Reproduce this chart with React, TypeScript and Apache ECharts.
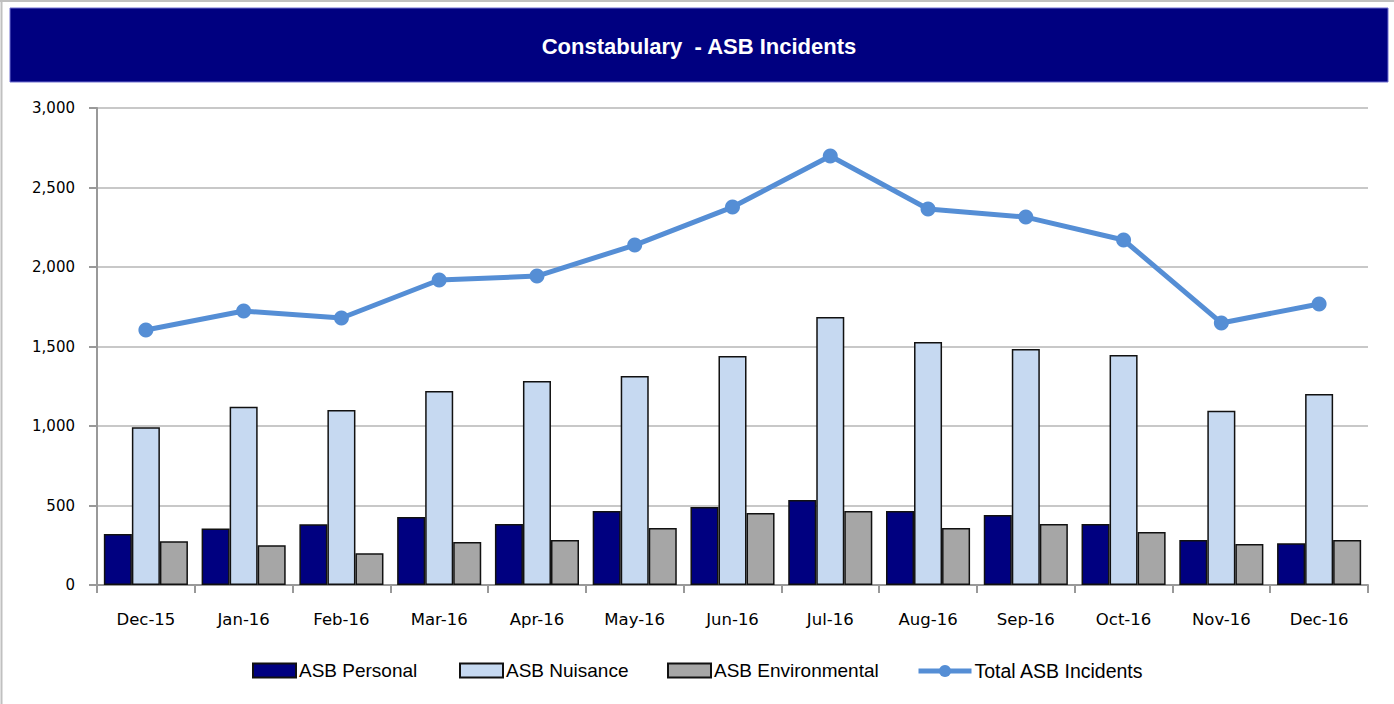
import React, { useEffect, useRef } from "react";
import * as echarts from "echarts";

const categories = ["Dec-15", "Jan-16", "Feb-16", "Mar-16", "Apr-16", "May-16", "Jun-16", "Jul-16", "Aug-16", "Sep-16", "Oct-16", "Nov-16", "Dec-16"];
const asbPersonal = [321, 356, 382, 428, 384, 465, 490, 535, 465, 440, 384, 283, 262];
const asbNuisance = [992, 1121, 1101, 1220, 1283, 1314, 1440, 1686, 1528, 1484, 1447, 1096, 1201];
const asbEnvironmental = [275, 250, 199, 270, 283, 358, 453, 465, 358, 384, 333, 258, 283];
const totalAsb = [1604, 1723, 1679, 1918, 1943, 2138, 2377, 2698, 2365, 2314, 2170, 1648, 1767];

const FONT = "'Liberation Sans Narrow', 'Liberation Sans', Arial, sans-serif";
const AXFONT = "'DejaVu Sans', Verdana, sans-serif";

const legendNames = ["ASB Personal", "ASB Nuisance", "ASB Environmental", "Total ASB Incidents"];
const legendLefts = [252, 459, 667, 916];

export default function App() {
  const ref = useRef<HTMLDivElement>(null);
  useEffect(() => {
    if (!ref.current) return;
    const chart = echarts.init(ref.current, null, { renderer: "svg" });
    const barStyle = (color: string) => ({ color, borderColor: "#111", borderWidth: 1.5 });
    chart.setOption({
      animation: false,
      backgroundColor: "#fff",
      graphic: [
        { type: "line", shape: { x1: 0, y1: 1, x2: 1394, y2: 1 }, style: { stroke: "#c0c0c0", lineWidth: 2 } },
        { type: "line", shape: { x1: 1.5, y1: 0, x2: 1.5, y2: 704 }, style: { stroke: "#c0c0c0", lineWidth: 2 } },
        { type: "rect", shape: { x: 10, y: 8, width: 1378, height: 74 }, style: { fill: "#000080", stroke: "#7070d0", lineWidth: 1 } },
        { type: "text", x: 699, y: 46, style: { text: "Constabulary  - ASB Incidents", fill: "#fff", font: `bold 22px ${FONT}`, textAlign: "center", textVerticalAlign: "middle" } },
      ],
      grid: { left: 97, right: 26, top: 108, bottom: 119 },
      legend: legendNames.map((name, i) => ({
        left: legendLefts[i],
        top: 661,
        padding: 0,
        itemWidth: i === 3 ? 53 : 43,
        itemHeight: i === 3 ? 15 : 14,
        textStyle: { fontFamily: FONT, fontSize: i === 3 ? 19.5 : 19, color: "#000", padding: [0, 0, 0, -2] },
        lineStyle: i === 3 ? { width: 5 } : undefined,
        data: i === 3 ? [{ name }] : [{ name, icon: "rect" }],
      })),
      xAxis: {
        type: "category",
        data: categories,
        axisLine: { lineStyle: { color: "#999", width: 2 } },
        axisTick: { show: true, length: 8, lineStyle: { color: "#999", width: 2 } },
        axisLabel: { fontFamily: AXFONT, fontSize: 16.5, color: "#000", margin: 26 },
      },
      yAxis: {
        type: "value",
        min: 0,
        max: 3000,
        interval: 500,
        axisLine: { show: true, lineStyle: { color: "#999", width: 2 } },
        axisTick: { show: true, length: 8, lineStyle: { color: "#999", width: 2 } },
        splitLine: { lineStyle: { color: "#c8c8c8", width: 2 } },
        axisLabel: {
          fontFamily: AXFONT,
          fontSize: 15,
          color: "#000",
          margin: 22,
          formatter: (v: number) => v.toLocaleString("en-US"),
        },
      },
      series: [
        { name: "ASB Personal", type: "bar", data: asbPersonal, barGap: "0%", barCategoryGap: "14%", itemStyle: barStyle("#000080") },
        { name: "ASB Nuisance", type: "bar", data: asbNuisance, barGap: "0%", barCategoryGap: "14%", itemStyle: barStyle("#c6d9f1") },
        { name: "ASB Environmental", type: "bar", data: asbEnvironmental, barGap: "0%", barCategoryGap: "14%", itemStyle: barStyle("#a6a6a6") },
        {
          name: "Total ASB Incidents",
          type: "line",
          data: totalAsb,
          symbol: "circle",
          symbolSize: 15,
          lineStyle: { color: "#558ed5", width: 5 },
          itemStyle: { color: "#558ed5" },
        },
      ],
    });
    return () => chart.dispose();
  }, []);
  return <div ref={ref} style={{ position: "fixed", left: 0, top: 0, width: 1394, height: 704 }} />;
}
